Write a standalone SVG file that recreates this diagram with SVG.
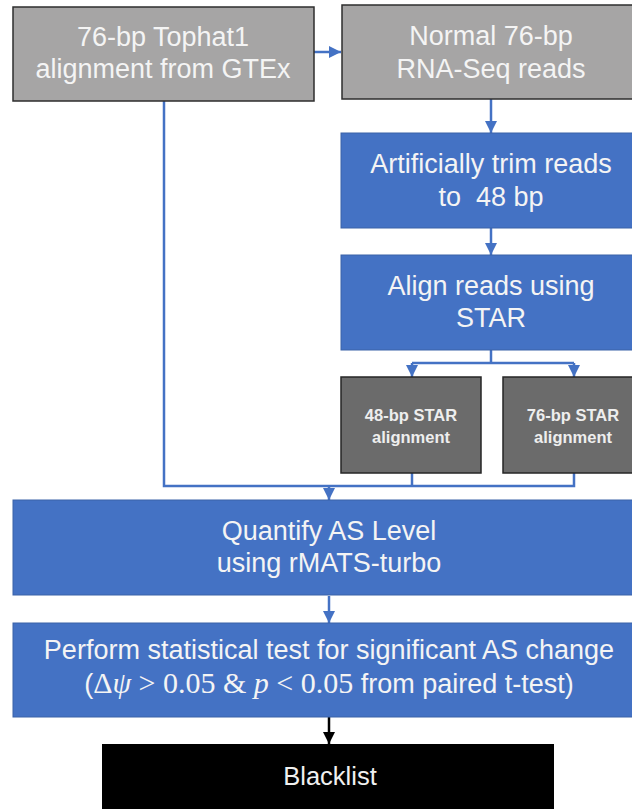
<svg xmlns="http://www.w3.org/2000/svg" width="632" height="809" viewBox="0 0 632 809">
<defs>
<style>
.bg{fill:#ffffff}
.gray{fill:#a6a5a5;stroke:#2e2e2e;stroke-width:1.5}
.dark{fill:#6b6b6b;stroke:#262626;stroke-width:1.5}
.blue{fill:#4472c4;stroke:#3a62a8;stroke-width:1}
.black{fill:#000000}
.t{font-family:"Liberation Sans",Arial,sans-serif;fill:#f4f4f4;text-anchor:middle}
.big{font-size:27px}
.small{font-size:16.5px;font-weight:bold;fill:#eeeeee}
.math{font-family:"Liberation Serif","DejaVu Serif",serif;font-size:30px}
.c{fill:none;stroke:#4472c4;stroke-width:2.5}
.ck{fill:none;stroke:#000000;stroke-width:2.5}
</style>
<marker id="ah" markerUnits="userSpaceOnUse" markerWidth="12" markerHeight="12" viewBox="0 0 10 10" refX="10" refY="5" orient="auto">
<path d="M0,0 L10,5 L0,10 z" fill="#4472c4"/>
</marker>
<marker id="ahk" markerUnits="userSpaceOnUse" markerWidth="12" markerHeight="12" viewBox="0 0 10 10" refX="10" refY="5" orient="auto">
<path d="M0,0 L10,5 L0,10 z" fill="#000000"/>
</marker>
</defs>
<rect class="bg" x="0" y="0" width="632" height="809"/>

<g id="connectors">
<path class="c" d="M314,52 L341,52" marker-end="url(#ah)"/>
<path class="c" d="M491,99 L491,133" marker-end="url(#ah)"/>
<path class="c" d="M491,228 L491,255" marker-end="url(#ah)"/>
<path class="c" d="M491,350 L491,363"/>
<path class="c" d="M412,363 L574,363"/>
<path class="c" d="M412,363 L412,377" marker-end="url(#ah)"/>
<path class="c" d="M574,363 L574,377" marker-end="url(#ah)"/>
<path class="c" d="M164,101 L164,486 L574,486 L574,473"/>
<path class="c" d="M412,473 L412,486"/>
<path class="c" d="M329,486 L329,500" marker-end="url(#ah)"/>
<path class="c" d="M329,596 L329,623" marker-end="url(#ah)"/>
<path class="ck" d="M329,717 L329,744" marker-end="url(#ahk)"/>
</g>

<g id="node-tophat">
<rect class="gray" x="13" y="7" width="301" height="94"/>
<text class="t big" x="163" y="46">76-bp Tophat1</text>
<text class="t big" x="163" y="78">alignment from GTEx</text>
</g>

<g id="node-normal">
<rect class="gray" x="342" y="5" width="300" height="94"/>
<text class="t big" x="491" y="45">Normal 76-bp</text>
<text class="t big" x="491" y="78">RNA-Seq reads</text>
</g>

<g id="node-trim">
<rect class="blue" x="341" y="133" width="300" height="95"/>
<text class="t big" x="491" y="173">Artificially trim reads</text>
<text class="t big" x="491" y="206" xml:space="preserve">to  48 bp</text>
</g>

<g id="node-align">
<rect class="blue" x="341" y="255" width="300" height="95"/>
<text class="t big" x="491" y="295">Align reads using</text>
<text class="t big" x="491" y="327">STAR</text>
</g>

<g id="node-star48">
<rect class="dark" x="341" y="377" width="140" height="96"/>
<text class="t small" x="411" y="421">48-bp STAR</text>
<text class="t small" x="411" y="443">alignment</text>
</g>

<g id="node-star76">
<rect class="dark" x="503" y="377" width="140" height="96"/>
<text class="t small" x="573" y="421">76-bp STAR</text>
<text class="t small" x="573" y="443">alignment</text>
</g>

<g id="node-quantify">
<rect class="blue" x="13" y="500" width="630" height="95"/>
<text class="t big" x="329" y="540">Quantify AS Level</text>
<text class="t big" x="329" y="572">using rMATS-turbo</text>
</g>

<g id="node-test">
<rect class="blue" x="13" y="623" width="630" height="94"/>
<text class="t big" x="329" y="659">Perform statistical test for significant AS change</text>
<text class="t big" x="329" y="693">(<tspan class="math">Δ<tspan font-style="italic">ψ</tspan> &gt; 0.05 &amp; <tspan font-style="italic">p</tspan> &lt; 0.05</tspan> from paired t-test)</text>
</g>

<g id="node-blacklist">
<rect class="black" x="102" y="744" width="452" height="70"/>
<text class="t" x="330" y="785" style="font-size:25.5px;fill:#f0f0f0">Blacklist</text>
</g>
</svg>
